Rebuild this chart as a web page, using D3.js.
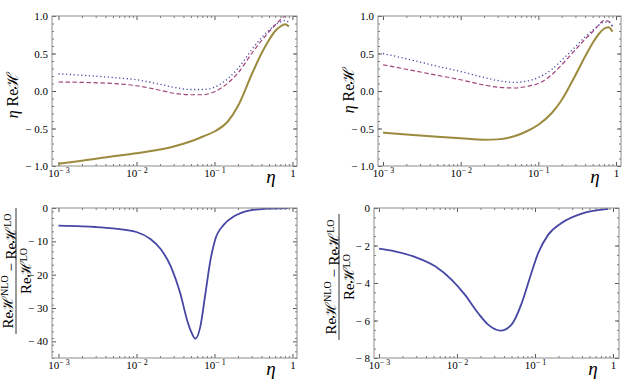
<!DOCTYPE html>
<html lang="en">
<head>
  <meta charset="UTF-8">
  <title>eta ReH panels</title>
  <script src="https://d3js.org/d3.v7.min.js"></script>
  <style>
    body { margin: 0; background: #fff; }
    svg text { font-family: "Liberation Serif", "DejaVu Serif", serif; fill: #000; }
  </style>
</head>
<body>
  <svg id="chart" width="623" height="380" font-family="Liberation Serif, DejaVu Serif, serif"></svg>

  <script>
    // ---- data ----
    const etaTop = [0.001, 0.002, 0.005, 0.01, 0.02, 0.03, 0.05, 0.07, 0.1, 0.15, 0.2, 0.3, 0.4, 0.5, 0.6, 0.7, 0.8, 0.9];

    const leftSolid  = [-0.97, -0.93, -0.87, -0.83, -0.78, -0.74, -0.67, -0.61, -0.54, -0.40, -0.20, 0.22, 0.50, 0.68, 0.80, 0.86, 0.89, 0.86];
    const leftDotted = [0.23, 0.21, 0.18, 0.15, 0.09, 0.05, 0.02, 0.02, 0.05, 0.17, 0.30, 0.55, 0.71, 0.81, 0.88, 0.92, 0.94, 0.91];
    const leftDashed = [0.12, 0.115, 0.10, 0.07, 0.01, -0.03, -0.05, -0.05, -0.01, 0.11, 0.24, 0.50, 0.67, 0.79, 0.88, 0.95, 1.0, 1.02];

    const rightSolid  = [-0.555, -0.58, -0.61, -0.63, -0.65, -0.645, -0.60, -0.54, -0.45, -0.29, -0.12, 0.21, 0.46, 0.64, 0.76, 0.83, 0.85, 0.79];
    const rightDotted = [0.50, 0.43, 0.33, 0.26, 0.18, 0.14, 0.115, 0.13, 0.18, 0.29, 0.41, 0.59, 0.72, 0.81, 0.88, 0.92, 0.92, 0.86];
    const rightDashed = [0.35, 0.29, 0.21, 0.15, 0.08, 0.05, 0.04, 0.06, 0.10, 0.22, 0.35, 0.55, 0.69, 0.79, 0.88, 0.94, 0.93, 0.86];

    const etaBotLeft   = [0.001, 0.002, 0.003, 0.005, 0.01, 0.0151, 0.0204, 0.0275, 0.0363, 0.0457, 0.050, 0.057, 0.066, 0.0767, 0.089, 0.102, 0.132, 0.178, 0.288, 0.479, 0.89];
    const ratioBotLeft = [-5.3, -5.5, -5.7, -6.1, -7.2, -9.3, -12.3, -17.5, -25.5, -34.5, -37, -39.2, -35.5, -25.5, -15.5, -9.5, -5, -2.5, -0.7, -0.2, 0];

    const etaBotRight   = [0.001, 0.0016, 0.00288, 0.00525, 0.0085, 0.0126, 0.0186, 0.0251, 0.0363, 0.050, 0.0676, 0.087, 0.11, 0.148, 0.219, 0.398, 0.87];
    const ratioBotRight = [-2.17, -2.31, -2.61, -3.11, -3.82, -4.62, -5.6, -6.22, -6.54, -6.22, -5.07, -3.65, -2.4, -1.42, -0.8, -0.3, -0.05];

    const xTicks = [0.001, 0.01, 0.1, 1];
    const yTicksTop = [-1, -0.5, 0, 0.5, 1];
    const yTicksBotLeft = [0, -10, -20, -30, -40];
    const yTicksBotRight = [0, -2, -4, -6, -8];

    const blue = "#4646a6", magenta = "#a2437a", olive = "#9c8a3e";

    const svg = d3.select("#chart");

    const fmtY = (digits) => d => {
      const s = Math.abs(d).toFixed(digits);
      return d < 0 ? "\u2212 " + s : s;
    };

    function panel(o) {
      const g = svg.append("g").attr("transform", `translate(${o.left},${o.top})`);
      const x = d3.scaleLog().domain([10 ** o.xlo, 10 ** o.xhi]).range([0, o.w]);
      const y = d3.scaleLinear().domain(o.ydom).range([o.h, 0]);

      // minor ticks
      const xMinor = [];
      for (let e = -3; e < 0; e++) for (let m = 2; m <= 9; m++) xMinor.push(m * 10 ** e);
      const yMinor = d3.range(o.ydom[0], o.ydom[1] + o.yMinorStep / 2, o.yMinorStep);

      const minorAxes = [
        [d3.axisBottom(x).tickValues(xMinor), `translate(0,${o.h})`],
        [d3.axisTop(x).tickValues(xMinor), null],
        [d3.axisLeft(y).tickValues(yMinor), null],
        [d3.axisRight(y).tickValues(yMinor), `translate(${o.w},0)`]
      ];
      minorAxes.forEach(([ax, tr]) => {
        const a = g.append("g").call(ax.tickSize(-2).tickFormat(""));
        if (tr) a.attr("transform", tr);
        a.select(".domain").remove();
        a.selectAll("line").attr("stroke", "#666").attr("stroke-width", 0.8);
      });

      // major ticks
      const bottom = g.append("g").attr("transform", `translate(0,${o.h})`)
        .call(d3.axisBottom(x).tickValues(xTicks).tickSize(-4).tickPadding(3));
      bottom.selectAll(".tick text").each(function (d) {
        const t = d3.select(this).text(null);
        const e = Math.round(Math.log10(d));
        if (e === 0) { t.text("1"); return; }
        t.append("tspan").text("10");
        t.append("tspan").attr("dy", "-0.45em").attr("font-size", 8).text("\u2212 " + (-e));
      });
      g.append("g").call(d3.axisTop(x).tickValues(xTicks).tickSize(-4).tickFormat(""));
      g.append("g").call(d3.axisLeft(y).tickValues(o.yTicks).tickSize(-4).tickPadding(4).tickFormat(o.fmt));
      g.append("g").attr("transform", `translate(${o.w},0)`)
        .call(d3.axisRight(y).tickValues(o.yTicks).tickSize(-4).tickFormat(""));
      g.selectAll(".domain").remove();
      g.selectAll("g").attr("font-family", null).attr("font-size", null);
      g.selectAll(".tick text").attr("font-size", 11);
      g.selectAll(".tick line").attr("stroke", "#555");

      // curves
      const clipId = "clip" + o.id;
      g.append("clipPath").attr("id", clipId)
        .append("rect").attr("width", o.w).attr("height", o.h);
      const plot = g.append("g").attr("clip-path", `url(#${clipId})`);
      const line = d3.line().x(d => x(d[0])).y(d => y(d[1])).curve(d3.curveMonotoneX);
      o.series.forEach(s => {
        plot.append("path")
          .datum(d3.zip(s.eta, s.vals))
          .attr("fill", "none")
          .attr("stroke", s.color)
          .attr("stroke-width", s.width)
          .attr("stroke-dasharray", s.dash || null)
          .attr("d", line);
      });

      // frame
      g.append("rect").attr("width", o.w).attr("height", o.h)
        .attr("fill", "none").attr("stroke", "#8c8c8c").attr("stroke-width", 1);

      // eta label
      g.append("text").attr("x", o.w - 26).attr("y", o.h + 16.5)
        .attr("text-anchor", "middle").attr("font-size", 19).attr("font-style", "italic")
        .text("\u03b7");
      return g;
    }

    function topLabel(cx, cy) {
      const t = svg.append("text")
        .attr("transform", `translate(${cx},${cy}) rotate(-90)`)
        .attr("text-anchor", "middle").attr("font-size", 16);
      t.append("tspan").attr("font-style", "italic").text("\u03b7");
      t.append("tspan").text(" Re\u210b");
    }

    function fracLabel(cx, cy) {
      const g = svg.append("g").attr("transform", `translate(${cx},${cy}) rotate(-90)`);
      const num = g.append("text").attr("y", -3).attr("text-anchor", "middle").attr("font-size", 15);
      num.append("tspan").text("Re\u210b");
      num.append("tspan").attr("dy", "-0.5em").attr("font-size", 10).text("NLO");
      num.append("tspan").attr("dy", "0.5em").text(" \u2212 Re\u210b");
      num.append("tspan").attr("dy", "-0.5em").attr("font-size", 10).text("LO");
      const den = g.append("text").attr("y", 15).attr("text-anchor", "middle").attr("font-size", 15);
      den.append("tspan").text("Re\u210b");
      den.append("tspan").attr("dy", "-0.45em").attr("font-size", 10).text("LO");
      g.append("line").attr("x1", -63).attr("x2", 63).attr("y1", 0).attr("y2", 0)
        .attr("stroke", "#000").attr("stroke-width", 0.8);
    }

    panel({
      id: "tl", left: 52, top: 16, w: 245, h: 150, xlo: -3.083, xhi: 0.058,
      ydom: [-1, 1], yTicks: yTicksTop, yMinorStep: 0.1, fmt: fmtY(1),
      series: [
        { eta: etaTop, vals: leftSolid, color: olive, width: 2 },
        { eta: etaTop, vals: leftDashed, color: magenta, width: 1.2, dash: "4.5,2.5" },
        { eta: etaTop, vals: leftDotted, color: blue, width: 1.3, dash: "1.2,2.6" }
      ]
    });
    panel({
      id: "tr", left: 378, top: 16, w: 243, h: 150, xlo: -3.064, xhi: 0.064,
      ydom: [-1, 1], yTicks: yTicksTop, yMinorStep: 0.1, fmt: fmtY(1),
      series: [
        { eta: etaTop, vals: rightSolid, color: olive, width: 2 },
        { eta: etaTop, vals: rightDashed, color: magenta, width: 1.2, dash: "4.5,2.5" },
        { eta: etaTop, vals: rightDotted, color: blue, width: 1.3, dash: "1.2,2.6" }
      ]
    });
    panel({
      id: "bl", left: 52, top: 208, w: 245, h: 150, xlo: -3.083, xhi: 0.058,
      ydom: [-45, 0], yTicks: yTicksBotLeft, yMinorStep: 2, fmt: fmtY(0),
      series: [{ eta: etaBotLeft, vals: ratioBotLeft, color: blue, width: 1.8 }]
    });
    panel({
      id: "br", left: 374, top: 208, w: 245, h: 150, xlo: -3.064, xhi: 0.077,
      ydom: [-8, 0], yTicks: yTicksBotRight, yMinorStep: 0.5, fmt: fmtY(0),
      series: [{ eta: etaBotRight, vals: ratioBotRight, color: blue, width: 1.8 }]
    });

    topLabel(18, 95);
    topLabel(354, 90);
    fracLabel(16, 271);
    fracLabel(339, 277);
  </script>
</body>
</html>
